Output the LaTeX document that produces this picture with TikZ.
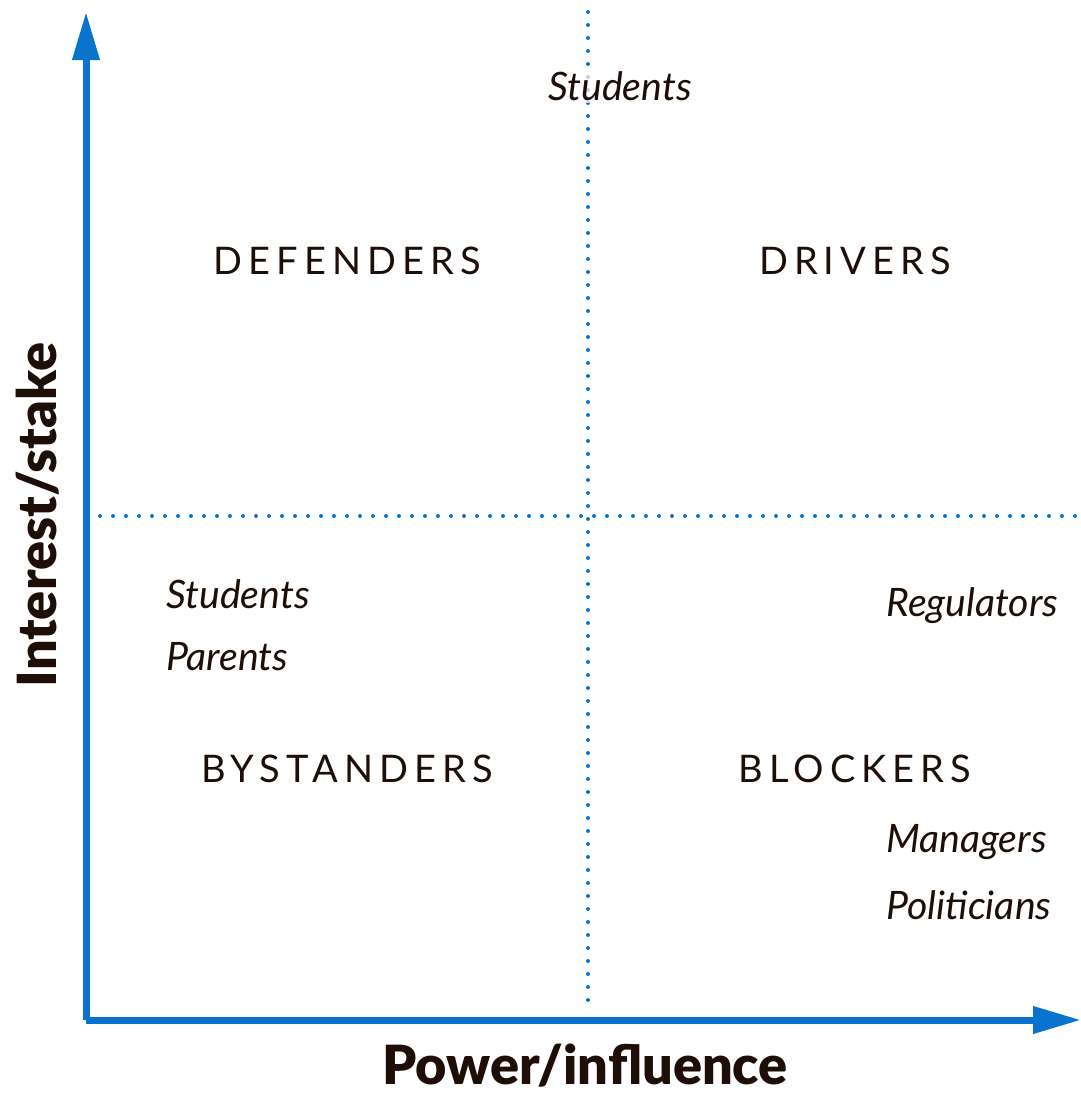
\documentclass[tikz,border=0pt]{standalone}
\usepackage{fontspec}
\setmainfont{Lato}[BoldFont={Lato Black}]
\usetikzlibrary{arrows.meta}
\definecolor{axisblue}{RGB}{8,116,206}
\definecolor{inkbrown}{RGB}{30,14,8}
\tikzset{
  axis/.style={line width=3.5pt, axisblue, -{Triangle[length=24pt,width=13pt]}},
  grid/.style={line width=2pt, axisblue, line cap=round, dash pattern=on 0pt off 6.5pt},
  quad/.style={font=\fontsize{19}{22}\selectfont\addfontfeature{LetterSpace=16}, text=inkbrown},
  who/.style={font=\fontsize{19.6}{22}\selectfont\itshape, text=inkbrown, inner sep=1pt},
  axlabel/.style={font=\fontsize{27}{30}\selectfont\bfseries, text=inkbrown, inner sep=0pt}
}
\begin{document}
\begin{tikzpicture}[x=0.5pt, y=-0.5pt]
  \useasboundingbox (0,0) rectangle (1081,1093);

  % axes
  \coordinate (origin) at (86,1020);
  \coordinate (ytop) at (86,12);
  \coordinate (xend) at (1081,1020);
  \draw[axis] (origin) -- (ytop);
  \draw[axis] (origin) -- (xend);

  % quadrant lines
  \coordinate (vtop) at (588,12);
  \coordinate (vbot) at (588,1005);
  \coordinate (hleft) at (100,516);
  \coordinate (hright) at (1081,516);
  \draw[grid] (vtop) -- (vbot);
  \draw[grid] (hleft) -- (hright);

  % quadrant names
  \node[quad] (defenders) at (347,261) {DEFENDERS};
  \node[quad] (drivers) at (855,261) {DRIVERS};
  \node[quad] (bystanders) at (347,769) {BYSTANDERS};
  \node[quad] (blockers) at (855,769) {BLOCKERS};

  % stakeholders
  \node[who, fill=white, fill opacity=0.7, text opacity=1] (studtop) at (620,86) {Students};
  \node[who, anchor=west] (studleft) at (164,594) {Students};
  \node[who, anchor=west] (parents) at (164,657) {Parents};
  \node[who, anchor=west] (regulators) at (884,606) {Regulators};
  \node[who, anchor=west] (managers) at (884,842) {Managers};
  \node[who, anchor=west] (politicians) at (884,905) {Politicians};

  % axis labels
  \node[axlabel, rotate=90] (ylabel) at (38,515) {Interest/stake};
  \node[axlabel] (xlabel) at (585,1066) {Power/influence};
\end{tikzpicture}
\end{document}
